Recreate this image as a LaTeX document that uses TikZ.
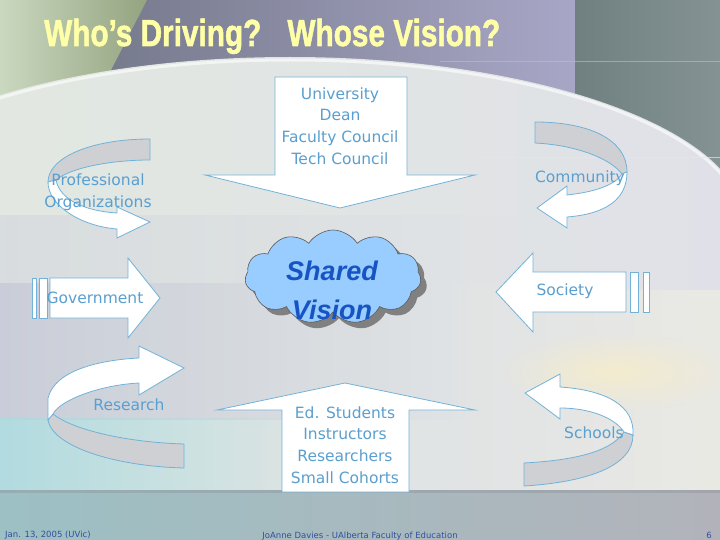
\documentclass[tikz,border=0pt]{standalone}
\usepackage{fontspec}
\usetikzlibrary{shapes.symbols,fadings}
\newfontfamily\lab{DejaVu Sans}
\newfontfamily\ttl{Liberation Sans}[BoldFeatures={FakeBold=1.6}]
\definecolor{bgbase}{RGB}{210,212,222}
\definecolor{arrowline}{HTML}{72B2D8}
\definecolor{labelblue}{HTML}{5A9FCF}
\definecolor{bandgrey}{HTML}{CFD0D3}
\definecolor{titleyellow}{HTML}{FFFFA8}
\definecolor{cloudblue}{HTML}{99CCFF}
\definecolor{svblue}{RGB}{22,84,196}
\definecolor{footblue}{HTML}{33509A}
\definecolor{topL}{RGB}{118,122,140}
\definecolor{topM}{RGB}{150,146,156}
\definecolor{topR}{RGB}{168,166,198}
\definecolor{stripL}{RGB}{112,128,128}
\definecolor{stripR}{RGB}{132,146,146}
\definecolor{greenL}{RGB}{202,216,192}
\definecolor{greenR}{RGB}{148,164,128}
\definecolor{domeL}{RGB}{226,233,223}
\definecolor{domeR}{RGB}{224,225,232}
\definecolor{bandA}{RGB}{206,208,222}
\definecolor{bandB}{RGB}{196,199,215}
\definecolor{tealbot}{RGB}{172,218,224}
\definecolor{lightR}{RGB}{234,234,228}
\definecolor{cream}{RGB}{244,236,206}
\definecolor{footL}{RGB}{156,192,196}
\definecolor{footM}{RGB}{166,170,178}
\definecolor{footR}{RGB}{178,179,186}
\definecolor{footedge}{RGB}{140,146,152}
\definecolor{lineA}{RGB}{150,205,225}
\definecolor{lineB}{RGB}{220,234,240}
\definecolor{shadowgrey}{RGB}{128,128,128}
\definecolor{cloudedge}{RGB}{90,90,90}
\tikzfading[name=fadeR, left color=transparent!0, right color=transparent!100]
\tikzfading[name=fadeL, left color=transparent!100, right color=transparent!0]
\tikzfading[name=creamfade, inner color=transparent!0, outer color=transparent!100]
\tikzset{
  arr/.style={draw=arrowline, fill=white, line width=0.8pt, line join=miter},
  band/.style={draw=arrowline, fill=bandgrey, line width=0.8pt, line join=miter},
  lbl/.style={text=labelblue, font=\lab\fontsize{15.5}{21.7}\selectfont, align=center, inner sep=0pt},
  foot/.style={text=footblue, font=\lab\fontsize{8.5}{10}\selectfont, inner sep=0pt},
  cloudshape/.style={cloud, cloud puffs=11, cloud puff arc=115, aspect=1.9, minimum width=176pt, minimum height=94pt, inner sep=0pt},
  domearc/.style={x radius=455, y radius=166, start angle=180, end angle=360}
}
\begin{document}
\begin{tikzpicture}[x=1pt,y=-1pt]
\useasboundingbox (0,0) rectangle (720,540);
\clip (0,0) rectangle (720,540);
% ---------- background ----------
\fill[bgbase] (0,0) rectangle (720,540);
\shade[left color=topL, middle color=topM, right color=topR] (100,0) rectangle (575,230);
\shade[left color=stripL, right color=stripR] (575,0) rectangle (720,230);
\shade[left color=greenL, right color=greenR] (0,0) -- (147,0) -- (110,72) -- (0,96) -- cycle;
\shade[left color=domeL, right color=domeR] (-165,223) arc[domearc] -- (745,545) -- (-165,545) -- cycle;
\draw[white, opacity=0.6, line width=3pt] (-162,223) arc[start angle=180, end angle=360, x radius=452, y radius=163];
\fill[bandA, opacity=0.45, path fading=fadeR] (0,215) rectangle (520,283);
\fill[bandB, opacity=0.8, path fading=fadeR] (0,283) rectangle (470,420);
\fill[tealbot, opacity=0.9, path fading=fadeR] (0,418) rectangle (330,490);
\fill[lightR, path fading=fadeL] (430,290) rectangle (720,490);
\fill[cream, path fading=creamfade] (615,372) ellipse [x radius=120, y radius=40];
\shade[left color=footL, middle color=footM, right color=footR] (0,490) rectangle (720,540);
\fill[footedge, opacity=0.4] (0,490) rectangle (720,493);
\draw[lineA, opacity=0.6, line width=1pt] (440,62) -- (720,62);
\draw[lineB, opacity=0.7, line width=1pt] (480,158) -- (720,158);
% ---------- title ----------
\node[anchor=base west, inner sep=0pt, text=titleyellow, font=\ttl\bfseries\fontsize{37.7}{40}\selectfont] (title) at (44,46) {\resizebox{456pt}{\height}{Who’s Driving?\hspace{0.6em}\ Whose Vision?}};
% ---------- straight arrows ----------
\draw[arr] (275,77) -- (407,77) -- (407,175) -- (475,175) -- (340,208) -- (205,175) -- (275,175) -- cycle;
\draw[arr] (345,383) -- (475,410) -- (409,410) -- (409,492) -- (282,492) -- (282,410) -- (217,410) -- cycle;
\draw[arr] (32,278) rectangle (36,318);
\draw[arr] (39,278) rectangle (47,318);
\draw[arr] (50,278) -- (128,278) -- (128,258) -- (160,298) -- (128,338) -- (128,318) -- (50,318) -- cycle;
\draw[arr] (630,272) rectangle (638,312);
\draw[arr] (643,272) rectangle (649,312);
\draw[arr] (626,272) -- (533,272) -- (533,253) -- (496,292) -- (533,332) -- (533,312) -- (626,312) -- cycle;
% ---------- curved arrows ----------
% Professional Organizations
\draw[band] (150,139) .. controls (90,139) and (48,158) .. (48,182) -- (56,180) .. controls (70,168) and (110,160) .. (150,160) -- cycle;
\draw[arr] (48,182) .. controls (48,205) and (80,226) .. (117,229) -- (117,238) -- (150,222) -- (117,207) -- (117,213) .. controls (85,211) and (60,200) .. (56,180) -- cycle;
% Community
\draw[band] (535,122) .. controls (590,122) and (627,140) .. (627,172) -- (622,174) .. controls (610,158) and (575,145) .. (535,143) -- cycle;
\draw[arr] (627,172) .. controls (627,200) and (605,214) .. (567,217) -- (567,228) -- (537,208) -- (567,186) -- (567,195) .. controls (595,192) and (615,185) .. (622,174) -- cycle;
% Research
\draw[band] (184,444) -- (184,468) .. controls (110,466) and (52,445) .. (48,420) -- (53,414) .. controls (70,428) and (120,442) .. (184,444) -- cycle;
\draw[arr] (48,420) -- (48,398) .. controls (55,370) and (100,360) .. (139,358) -- (139,346) -- (184,368) -- (139,395) -- (139,383) .. controls (100,385) and (60,400) .. (53,414) -- cycle;
% Schools
\draw[band] (633,435) .. controls (633,465) and (590,482) .. (524,486) -- (524,463) .. controls (580,460) and (612,450) .. (624,432) -- cycle;
\draw[arr] (560,387) .. controls (605,390) and (635,405) .. (633,435) -- (624,432) .. controls (615,418) and (590,408) .. (560,408) -- (560,419) -- (525,393) -- (560,374) -- cycle;
% ---------- cloud ----------
\node[cloudshape, fill=shadowgrey] (cloudshadow) at (339,283) {};
\node[cloudshape, fill=cloudblue, draw=cloudedge, line width=0.6pt] (cloud) at (333,277) {};
\node[text=svblue, font=\ttl\bfseries\itshape\fontsize{27}{39}\selectfont, align=center, inner sep=0pt] (sv) at (332,290) {Shared\\Vision};
% ---------- labels ----------
\node[lbl] (univ) at (340,126) {University\\Dean\\Faculty Council\\Tech Council};
\node[lbl] (ed) at (345,445) {Ed. Students\\Instructors\\Researchers\\Small Cohorts};
\node[lbl] (prof) at (98,192) {Professional\\Organizations};
\node[lbl] (comm) at (580,178) {Community};
\node[lbl] (gov) at (95,298) {Government};
\node[lbl] (soc) at (565,291) {Society};
\node[lbl] (res) at (129,405) {Research};
\node[lbl] (sch) at (594,433) {Schools};
% ---------- footer ----------
\node[foot, anchor=base west] (date) at (5,537) {Jan. 13, 2005 (UVic)};
\node[foot, anchor=base] (author) at (360,538) {JoAnne Davies - UAlberta Faculty of Education};
\node[foot, anchor=base east] (pg) at (712,538) {6};
\end{tikzpicture}
\end{document}
